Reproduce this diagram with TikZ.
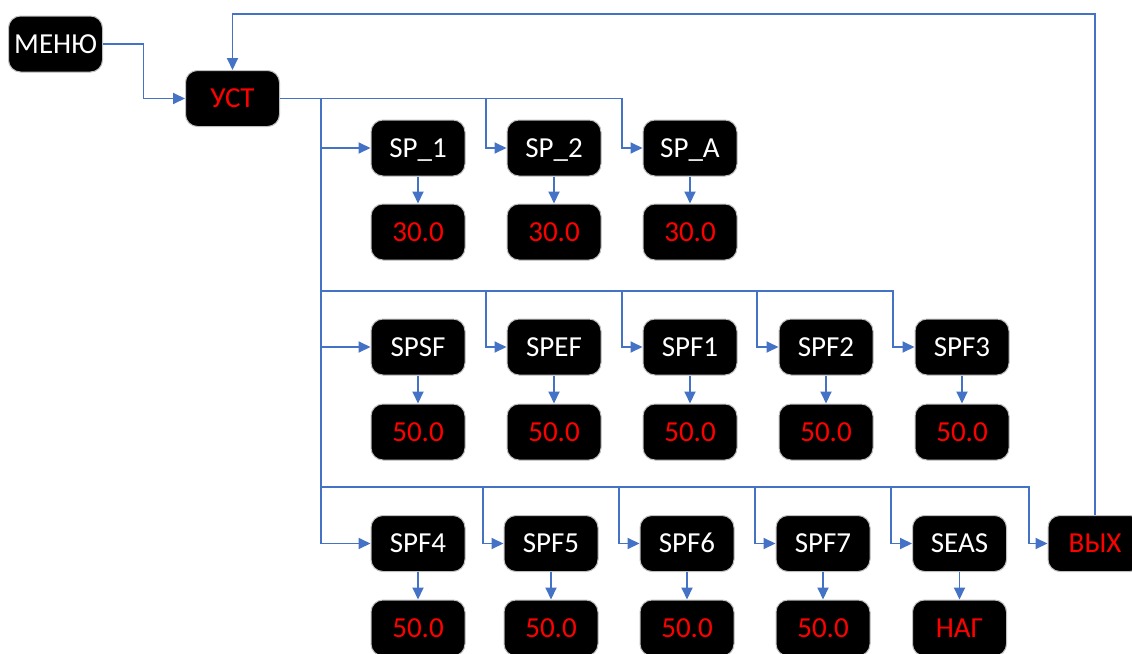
\documentclass[tikz,border=0pt]{standalone}
\usepackage{fontspec}
\setmainfont{Carlito}
\usetikzlibrary{arrows.meta}
\definecolor{lnblue}{HTML}{4472C4}
\definecolor{valred}{HTML}{FF0000}
\tikzset{
  box/.style={rectangle, rounded corners=12pt, fill=black, draw=black!25, line width=1pt,
    minimum width=94pt, minimum height=56pt, inner sep=0pt,
    text height=18.5pt, text depth=0pt, font=\fontsize{29}{32}\selectfont},
  keybox/.style={box, text=white},
  valbox/.style={box, text=valred},
  ln/.style={draw=lnblue, line width=1.9pt},
  arr/.style={ln, -{Triangle[length=12pt,width=11pt]}},
}
\begin{document}
\begin{tikzpicture}[x=1pt,y=-1pt]
\useasboundingbox (0,0) rectangle (1132,653);
% nodes
\node[keybox] (menu) at (55.5,44) {МЕНЮ};
\node[valbox] (ust) at (232.5,98.5) {УСТ};
% row 1
\node[keybox] (k11) at (418,148) {SP\_1};
\node[keybox] (k12) at (554,148) {SP\_2};
\node[keybox] (k13) at (690,148) {SP\_A};
\node[valbox] (v11) at (418,232) {30.0};
\node[valbox] (v12) at (554,232) {30.0};
\node[valbox] (v13) at (690,232) {30.0};
% row 2
\node[keybox] (k21) at (418,347) {SPSF};
\node[keybox] (k22) at (554,347) {SPEF};
\node[keybox] (k23) at (690,347) {SPF1};
\node[keybox] (k24) at (826,347) {SPF2};
\node[keybox] (k25) at (962,347) {SPF3};
\foreach \i/\x in {1/418,2/554,3/690,4/826,5/962}
  \node[valbox] (v2\i) at (\x,432) {50.0};
% row 3
\node[keybox] (k31) at (418,543.5) {SPF4};
\node[keybox] (k32) at (551,543.5) {SPF5};
\node[keybox] (k33) at (687,543.5) {SPF6};
\node[keybox] (k34) at (823,543.5) {SPF7};
\node[keybox] (k35) at (959.5,543.5) {SEAS};
\node[valbox] (exit) at (1095,543.5) {ВЫХ};
\foreach \i/\x in {1/418,2/551,3/687,4/823}
  \node[valbox] (v3\i) at (\x,628) {50.0};
\node[valbox] (v35) at (959.5,628) {НАГ};
% junction coordinates
\coordinate (m1) at (143.5,44);
\coordinate (j0) at (321,98.5);
\coordinate (j12) at (486,98.5);
\coordinate (j13) at (622,148);
\coordinate (j11) at (321,148);
\coordinate (j2) at (321,291);
\coordinate (j21) at (321,347);
\coordinate (j22) at (486,291);
\coordinate (j23) at (622,291);
\coordinate (j24) at (757,291);
\coordinate (j25) at (893,347);
\coordinate (j3) at (321,487);
\coordinate (j32) at (483,487);
\coordinate (j33) at (619,487);
\coordinate (j34) at (755,487);
\coordinate (j35) at (891,487);
\coordinate (j36) at (1029,543.5);
\coordinate (top) at (232.5,14);
% connectors
\draw[arr] (menu.east) -- (m1) |- (ust.west);
\draw[arr] (ust.east) -| (j13) -- (k13.west);
\draw[arr] (j12) |- (k12.west);
\draw[arr] (j0) |- (k31.west);
\draw[arr] (j11) -- (k11.west);
\draw[arr] (j21) -- (k21.west);
\draw[arr] (j2) -| (j25) -- (k25.west);
\draw[arr] (j22) |- (k22.west);
\draw[arr] (j23) |- (k23.west);
\draw[arr] (j24) |- (k24.west);
\draw[arr] (j3) -| (j36) -- (exit.west);
\draw[arr] (j32) |- (k32.west);
\draw[arr] (j33) |- (k33.west);
\draw[arr] (j34) |- (k34.west);
\draw[arr] (j35) |- (k35.west);
\draw[arr] (exit.north) |- (top) -- (ust.north);
\foreach \r/\n in {1/3,2/5,3/5}
  \foreach \c in {1,...,\n}
    \draw[arr] (k\r\c.south) -- (v\r\c.north);
\end{tikzpicture}
\end{document}
